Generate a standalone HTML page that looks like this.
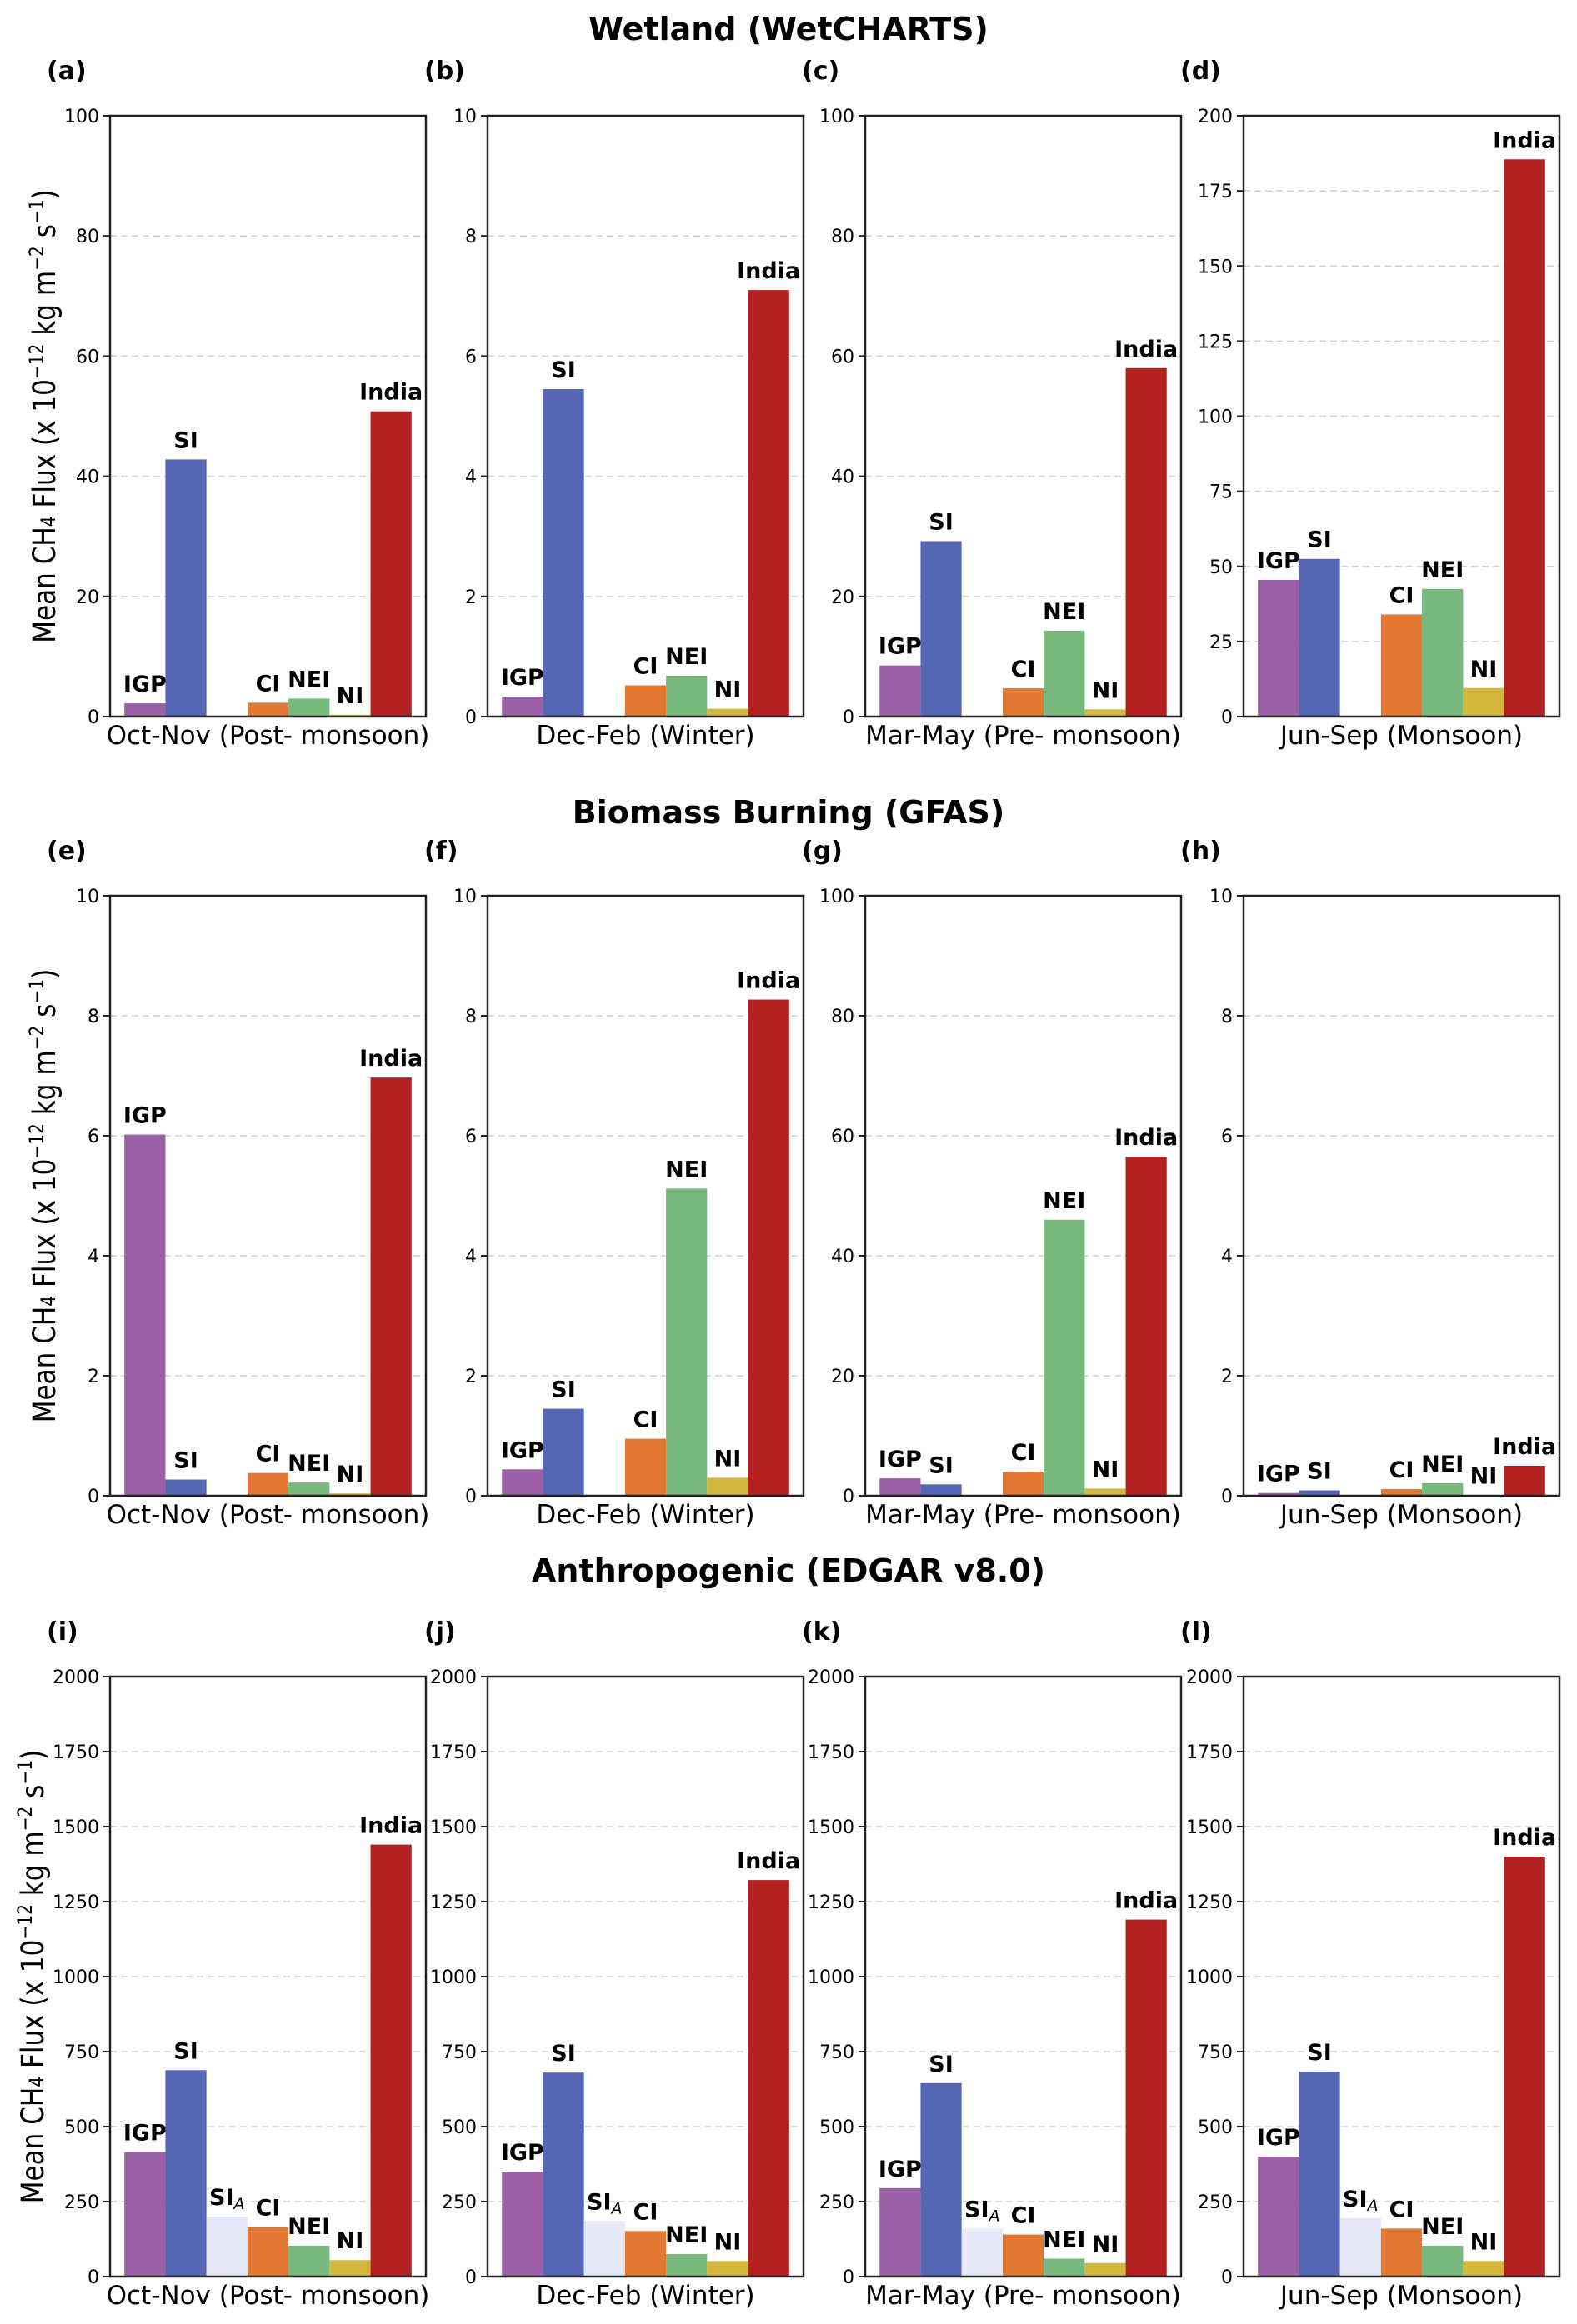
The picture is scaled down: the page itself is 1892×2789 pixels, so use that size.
<!DOCTYPE html>
<html><head><meta charset="utf-8"><style>
html,body{margin:0;padding:0;background:#fff}
svg{display:block}
text{font-family:"DejaVu Sans","Liberation Sans",sans-serif}
</style></head><body>
<svg id="fig" width="1892" height="2789" viewBox="0 0 1892 2789" xmlns="http://www.w3.org/2000/svg">
<text x="946" y="48" font-size="38" font-weight="bold" text-anchor="middle">Wetland (WetCHARTS)</text>
<text x="946" y="988" font-size="38" font-weight="bold" text-anchor="middle">Biomass Burning (GFAS)</text>
<text x="946" y="1898" font-size="38" font-weight="bold" text-anchor="middle">Anthropogenic (EDGAR v8.0)</text>
</svg>
<script>
const categories = ["IGP","SI","SIA","CI","NEI","NI","India"];
const colors = ["#9b5fa5","#5567b4","#e6e9f7","#e37832","#79b87c","#d4b73f","#b52020"];
const seasons = ["Oct-Nov (Post- monsoon)","Dec-Feb (Winter)","Mar-May (Pre- monsoon)","Jun-Sep (Monsoon)"];
const panelLetters = ["(a)","(b)","(c)","(d)","(e)","(f)","(g)","(h)","(i)","(j)","(k)","(l)"];
const yMax = [100,10,100,200, 10,10,100,10, 2000,2000,2000,2000];
const yStep = [20,2,20,25, 2,2,20,2, 250,250,250,250];
// values per panel, null = category absent
const valA = [2.2,42.8,null,2.3,3.0,0.3,50.8];
const valB = [0.33,5.45,null,0.52,0.68,0.13,7.1];
const valC = [8.5,29.2,null,4.7,14.3,1.2,58];
const valD = [45.5,52.5,null,34,42.5,9.5,185.5];
const valE = [6.02,0.27,null,0.38,0.22,0.04,6.97];
const valF = [0.44,1.45,null,0.95,5.12,0.3,8.27];
const valG = [2.9,1.9,null,4.0,46,1.2,56.5];
const valH = [0.046,0.09,null,0.11,0.21,0.01,0.5];
const valI = [415,688,200,165,103,55,1440];
const valJ = [350,680,185,152,75,52,1322];
const valK = [295,645,160,140,60,45,1190];
const valL = [400,683,195,160,103,52,1400];
const allVals = [valA,valB,valC,valD,valE,valF,valG,valH,valI,valJ,valK,valL];

const NS="http://www.w3.org/2000/svg";
const svg=document.getElementById('fig');
function mk(tag,attrs,parent){const e=document.createElementNS(NS,tag);for(const k in attrs)e.setAttribute(k,attrs[k]);(parent||svg).appendChild(e);return e;}
const colX=[132,585,1038,1492], W=379;
const rowY=[[139,860],[1075,1795],[2012,2732]];
const ylabX=[66,66,52];
for(let p=0;p<12;p++){
  const r=Math.floor(p/4), c=p%4;
  const x0=colX[c], x1=x0+W, yt=rowY[r][0], yb=rowY[r][1];
  const g=mk('g',{});
  
  
  const yS=v=>yb-(v/yMax[p])*(yb-yt);
  const xS=i=>x0+(i+0.35)*W/7.7;
  const bw=W/7.7;
  for(let t=0;t<=yMax[p]+1e-9;t+=yStep[p]){
    const y=yS(t);
    if(t>0 && t<yMax[p]){const gl=mk('line',{x1:x0,x2:x1,y1:y,y2:y,stroke:'#d0d0d0','stroke-width':1.5,'stroke-dasharray':'8,5'},g);
      }
    mk('line',{x1:x0-8,x2:x0,y1:y,y2:y,stroke:'#222','stroke-width':2},g);
    const tl=mk('text',{x:x0-13,y:y+8,'font-size':22,'text-anchor':'end'},g);
    tl.textContent=String(Math.round(t*100)/100);
    
  }
  const vals=allVals[p];
  for(let i=0;i<7;i++){
    const v=vals[i]; if(v===null) continue;
    const bx=xS(i), by=yS(v);
    const b=mk('rect',{x:bx,y:by,width:bw,height:yb-by,fill:colors[i]},g);
    
    
    const lt=mk('text',{x:bx+bw/2,y:by-14,'font-size':27,'font-weight':'bold','text-anchor':'middle'},g);
    
    
    if(categories[i]==='SIA'){lt.textContent='SI';const ts=mk('tspan',{'font-size':19,'font-style':'italic','font-weight':'normal',dy:5},lt);ts.textContent='A';}
    else lt.textContent=categories[i];
  }
  const fr=mk('rect',{x:x0,y:yt,width:W,height:yb-yt,fill:'none',stroke:'#222','stroke-width':2.5},g);
  
  const xl=mk('text',{x:x0+W/2,y:yb+33,'font-size':31,'text-anchor':'middle'},g);
  xl.textContent=seasons[c];
  
  const pl=mk('text',{x:x0-76,y:yt-44,'font-size':30,'font-weight':'bold'},g);
  pl.textContent=panelLetters[p];
  
  if(c===0){
    const cy=(yt+yb)/2;
    const yl=mk('text',{x:0,y:0,'font-size':37,'text-anchor':'middle',transform:`translate(${ylabX[r]},${cy}) rotate(-90) scale(0.84,1)`},g);
    
    yl.innerHTML='Mean CH<tspan font-size="24">4</tspan> Flux (x 10<tspan font-size="24" dy="-14">−12</tspan><tspan dy="14"> kg m</tspan><tspan font-size="24" dy="-14">−2</tspan><tspan dy="14"> s</tspan><tspan font-size="24" dy="-14">−1</tspan><tspan dy="14">)</tspan>';
  }
}
</script>
</body></html>
